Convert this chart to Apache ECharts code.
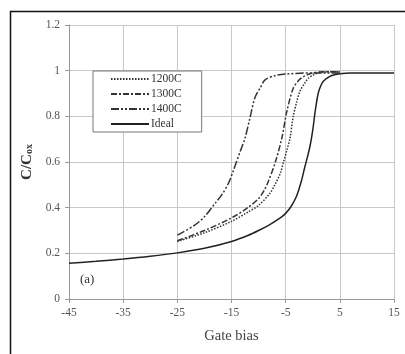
<!DOCTYPE html>
<html><head><meta charset="utf-8">
<script src="https://cdn.jsdelivr.net/npm/echarts@6/dist/echarts.min.js"></script>
<style>html,body{margin:0;padding:0;background:#fff}#c{width:405px;height:354px}</style>
</head><body><div id="c"></div>
<script>
var xTicks = [-45, -35, -25, -15, -5, 5, 15];
var seriesNames = ['1200C', '1300C', '1400C', 'Ideal'];
var ideal = [[-45,0.157],[-40,0.165],[-35,0.175],[-30,0.187],[-25,0.202],[-20,0.222],[-15,0.252],[-12,0.278],[-10,0.300],[-8,0.325],[-6,0.355],[-5,0.375],[-4,0.405],[-3,0.45],[-2,0.525],[-1.5,0.575],[-1,0.62],[-0.5,0.67],[0,0.74],[0.5,0.83],[1,0.9],[1.5,0.935],[2,0.955],[3,0.973],[4,0.982],[5,0.987],[7,0.99],[15,0.99]];
var c1200 = [[-25,0.252],[-20,0.29],[-15,0.34],[-12,0.38],[-10,0.41],[-8,0.46],[-7,0.5],[-6,0.55],[-5.4,0.6],[-4.8,0.65],[-4.2,0.705],[-3.6,0.8],[-3,0.86],[-2.4,0.908],[-1.5,0.945],[-0.8,0.967],[0,0.98],[1,0.99],[3,0.995],[5,0.995]];
var c1300 = [[-25,0.255],[-20,0.3],[-15,0.355],[-12,0.4],[-10,0.44],[-9,0.475],[-8.2,0.515],[-6.9,0.6],[-5.7,0.705],[-4.8,0.82],[-3.6,0.923],[-2.5,0.96],[-1.7,0.974],[0,0.99],[2,0.995],[5,0.995]];
var c1400 = [[-25,0.28],[-22,0.32],[-20,0.36],[-18,0.42],[-16.8,0.456],[-15.5,0.51],[-14.7,0.56],[-13.4,0.646],[-12.5,0.705],[-11.6,0.792],[-10.7,0.88],[-9.7,0.925],[-8.8,0.96],[-7,0.978],[-5,0.985],[0,0.99],[5,0.99]];

var font = 'Liberation Serif';
var chart = echarts.init(document.getElementById('c'));
function ser(name, data, type, color) {
  return {name: name, type: 'line', data: data, smooth: 0.3, showSymbol: false, symbol: 'none',
    lineStyle: {color: color, width: 1.5, type: type}, itemStyle: {color: color}};
}
chart.setOption({
  animation: false,
  backgroundColor: '#fff',
  grid: {left: 69, right: 11, top: 25, bottom: 55},
  legend: {
    orient: 'vertical', left: 93, top: 71, itemGap: 3, itemWidth: 38, itemHeight: 11,
    padding: [2, 20, 2, 17], backgroundColor: '#fff', borderColor: '#777', borderWidth: 1,
    data: seriesNames,
    itemStyle: {opacity: 0},
    textStyle: {fontFamily: font, fontSize: 11.5, color: '#333', padding: [0, 0, 0, -3]}
  },
  xAxis: {
    type: 'value', min: -45, max: 15, interval: 10,
    axisLine: {onZero: false, lineStyle: {color: '#999'}}, axisTick: {show: true, length: 4, lineStyle: {color: '#999'}},
    axisLabel: {fontFamily: font, fontSize: 11.5, color: '#555', margin: 8},
    splitLine: {lineStyle: {color: '#c8c8c8'}},
    name: 'Gate bias', nameLocation: 'middle', nameGap: 30,
    nameTextStyle: {fontFamily: font, fontSize: 14.5, color: '#444'}
  },
  yAxis: {
    type: 'value', min: 0, max: 1.2, interval: 0.2,
    axisLine: {show: true, onZero: false, lineStyle: {color: '#999'}}, axisTick: {show: true, length: 4, lineStyle: {color: '#999'}},
    axisLabel: {fontFamily: font, fontSize: 11.5, color: '#555', margin: 9},
    splitLine: {lineStyle: {color: '#c8c8c8'}},
    name: '{a|C/C}{b|ox}', nameLocation: 'middle', nameGap: 34, nameRotate: 90,
    nameTextStyle: {rich: {
      a: {fontFamily: font, fontSize: 15, fontWeight: 'bold', color: '#333'},
      b: {fontFamily: font, fontSize: 10, fontWeight: 'bold', color: '#333', verticalAlign: 'bottom', padding: [6, 0, 0, 0]}
    }}
  },
  graphic: [
    {type: 'rect', left: 8, top: 9, shape: {width: 420, height: 420}, style: {fill: 'none', stroke: '#111', lineWidth: 1.5}},
    {type: 'text', left: 80, top: 273, style: {text: '(a)', font: '13px "Liberation Serif"', fill: '#333'}}
  ],
  series: [
    ser('1200C', c1200, [1.5, 1.5], '#333'),
    ser('1300C', c1300, [6, 2, 2, 2], '#333'),
    ser('1400C', c1400, [8, 2, 2, 2, 2, 2], '#333'),
    ser('Ideal', ideal, 'solid', '#222')
  ]
});
</script></body></html>
